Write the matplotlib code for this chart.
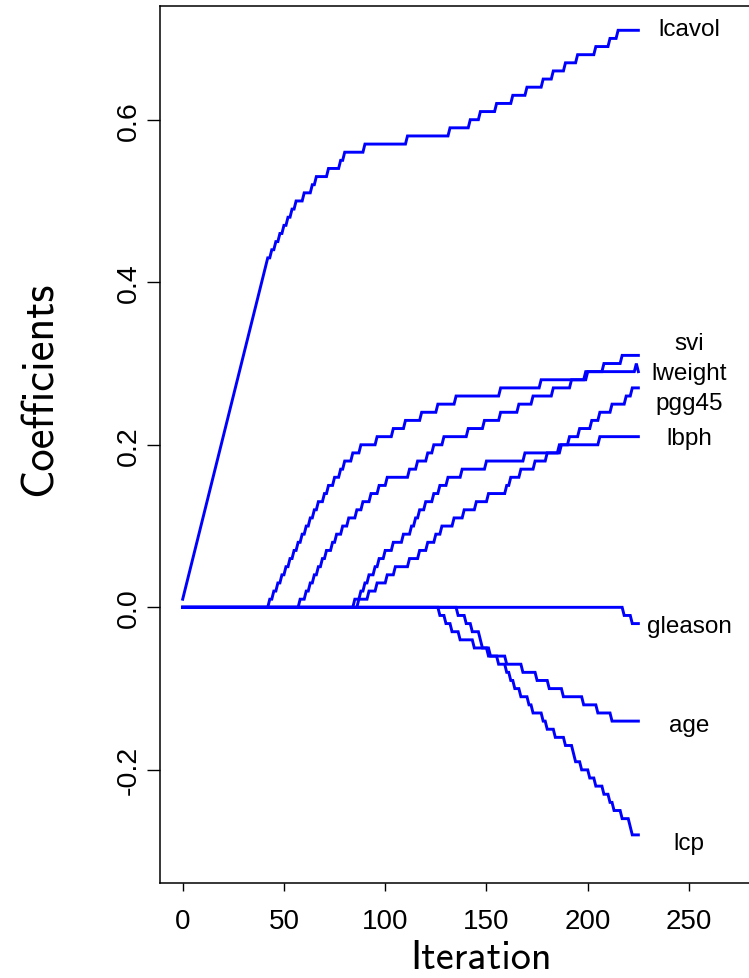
import matplotlib.pyplot as plt
import numpy as np

# -------- Coefficient paths (iteration where each 0.01 step happens, new value)
n_iter = 226

lcavol_steps = [0, 1, 2, 3, 4, 5, 6, 7, 8, 9, 10, 11, 12, 13, 14, 15, 16, 17, 18, 19, 20,
                21, 22, 23, 24, 25, 26, 27, 28, 29, 30, 31, 32, 33, 34, 35, 36, 37, 38, 39,
                40, 41, 42, 44, 46, 48, 50, 52, 54, 56, 60, 64, 66, 72, 78, 80, 90, 111, 132,
                142, 147, 155, 163, 170, 178, 183, 189, 195, 204, 211, 215]
lcavol_vals = [0.01, 0.02, 0.03, 0.04, 0.05, 0.06, 0.07, 0.08, 0.09, 0.10, 0.11, 0.12, 0.13,
               0.14, 0.15, 0.16, 0.17, 0.18, 0.19, 0.20, 0.21, 0.22, 0.23, 0.24, 0.25, 0.26,
               0.27, 0.28, 0.29, 0.30, 0.31, 0.32, 0.33, 0.34, 0.35, 0.36, 0.37, 0.38, 0.39,
               0.40, 0.41, 0.42, 0.43, 0.44, 0.45, 0.46, 0.47, 0.48, 0.49, 0.50, 0.51, 0.52,
               0.53, 0.54, 0.55, 0.56, 0.57, 0.58, 0.59, 0.60, 0.61, 0.62, 0.63, 0.64, 0.65,
               0.66, 0.67, 0.68, 0.69, 0.70, 0.71]

svi_steps = [43, 45, 47, 49, 51, 53, 55, 57, 59, 61, 63, 65, 67, 70, 72, 75, 78, 80, 84, 88,
             96, 104, 110, 118, 126, 135, 157, 177, 199, 208, 217]
svi_vals = [0.01, 0.02, 0.03, 0.04, 0.05, 0.06, 0.07, 0.08, 0.09, 0.10, 0.11, 0.12, 0.13,
            0.14, 0.15, 0.16, 0.17, 0.18, 0.19, 0.20, 0.21, 0.22, 0.23, 0.24, 0.25, 0.26,
            0.27, 0.28, 0.29, 0.30, 0.31]

lweight_steps = [58, 61, 63, 65, 67, 69, 71, 74, 76, 79, 82, 86, 89, 93, 97, 101, 112, 116,
                 121, 124, 129, 141, 149, 157, 166, 173, 183, 192, 200, 224, 225]
lweight_vals = [0.01, 0.02, 0.03, 0.04, 0.05, 0.06, 0.07, 0.08, 0.09, 0.10, 0.11, 0.12, 0.13,
                0.14, 0.15, 0.16, 0.17, 0.18, 0.19, 0.20, 0.21, 0.22, 0.23, 0.24, 0.25, 0.26,
                0.27, 0.28, 0.29, 0.30, 0.29]

pgg45_steps = [87, 92, 96, 101, 105, 112, 117, 121, 125, 128, 134, 139, 145, 151, 160, 162,
               167, 174, 180, 186, 191, 196, 202, 206, 212, 219, 222]
pgg45_vals = [0.01, 0.02, 0.03, 0.04, 0.05, 0.06, 0.07, 0.08, 0.09, 0.10, 0.11, 0.12, 0.13,
              0.14, 0.15, 0.16, 0.17, 0.18, 0.19, 0.20, 0.21, 0.22, 0.23, 0.24, 0.25, 0.26,
              0.27]

lbph_steps = [85, 88, 90, 92, 95, 97, 100, 104, 109, 113, 115, 117, 120, 124, 127, 131, 138,
              150, 169, 187, 206]
lbph_vals = [0.01, 0.02, 0.03, 0.04, 0.05, 0.06, 0.07, 0.08, 0.09, 0.10, 0.11, 0.12, 0.13,
             0.14, 0.15, 0.16, 0.17, 0.18, 0.19, 0.20, 0.21]

gleason_steps = [218, 222]
gleason_vals = [-0.01, -0.02]

age_steps = [127, 130, 133, 137, 144, 151, 160, 168, 175, 181, 188, 198, 205, 212]
age_vals = [-0.01, -0.02, -0.03, -0.04, -0.05, -0.06, -0.07, -0.08, -0.09, -0.10, -0.11,
            -0.12, -0.13, -0.14]

lcp_steps = [136, 140, 143, 147, 148, 152, 156, 160, 162, 164, 167, 171, 173, 178, 180, 184,
             189, 193, 194, 197, 201, 204, 208, 211, 213, 217, 221, 222]
lcp_vals = [-0.01, -0.02, -0.03, -0.04, -0.05, -0.06, -0.07, -0.08, -0.09, -0.10, -0.11,
            -0.12, -0.13, -0.14, -0.15, -0.16, -0.17, -0.18, -0.19, -0.20, -0.21, -0.22,
            -0.23, -0.24, -0.25, -0.26, -0.27, -0.28]

names = ['lcavol', 'svi', 'lweight', 'pgg45', 'lbph', 'gleason', 'age', 'lcp']
# label baselines (coefficient units) as they appear beside the paths
label_y = [0.704, 0.318, 0.281, 0.244, 0.201, -0.030, -0.152, -0.297]

x_ticks = [0, 50, 100, 150, 200, 250]
y_ticks = [-0.2, 0.0, 0.2, 0.4, 0.6]


def build_path(steps, vals):
    path = np.zeros(n_iter)
    for it, v in zip(steps, vals):
        path[it:] = v
    return path


paths = [build_path(lcavol_steps, lcavol_vals), build_path(svi_steps, svi_vals),
         build_path(lweight_steps, lweight_vals), build_path(pgg45_steps, pgg45_vals),
         build_path(lbph_steps, lbph_vals), build_path(gleason_steps, gleason_vals),
         build_path(age_steps, age_vals), build_path(lcp_steps, lcp_vals)]
iterations = np.arange(n_iter)

# -------- Plot
W, H = 749, 979
fig = plt.figure(figsize=(W / 100, H / 100), dpi=100)
ax = fig.add_axes([160 / W, 1 - 884 / H, (802 - 160) / W, (884 - 7) / H])

for p in paths:
    ax.plot(iterations, p, color='#0000ff', lw=2.1, solid_joinstyle='miter')

for name, ly in zip(names, label_y):
    ax.text(250, ly, name, ha='center', va='baseline', fontsize=17.5,
            family=['Liberation Sans', 'DejaVu Sans'])

ax.set_xlim(-11.2, 305.8)
ax.set_ylim(-0.3392, 0.7399)
ax.set_xticks(x_ticks)
ax.set_yticks(y_ticks)
ax.set_xticklabels([str(t) for t in x_ticks])
ax.set_yticklabels(['-0.2', '0.0', '0.2', '0.4', '0.6'])

tick_family = ['Liberation Sans Narrow', 'Liberation Sans', 'DejaVu Sans']
ax.tick_params(axis='x', length=5.8, width=1, pad=12, labelsize=20)
ax.tick_params(axis='y', length=9.1, width=1, pad=4, labelsize=20.5)
for lab in ax.get_xticklabels():
    lab.set_family(tick_family)
for lab in ax.get_yticklabels():
    lab.set_family(tick_family)
    lab.set_rotation(90)
    lab.set_va('center')

for s in ax.spines.values():
    s.set_linewidth(1.1)

ax.set_xlabel('Iteration', fontsize=29, family=['cmss10', 'DejaVu Sans'], labelpad=4)
ax.set_ylabel('Coefficients', fontsize=32, family=['cmss10', 'DejaVu Sans'])
ax.yaxis.set_label_coords(-0.187, 0.5644)
ax.yaxis.label.set_va('center')

fig.savefig('out.png', dpi=100)
